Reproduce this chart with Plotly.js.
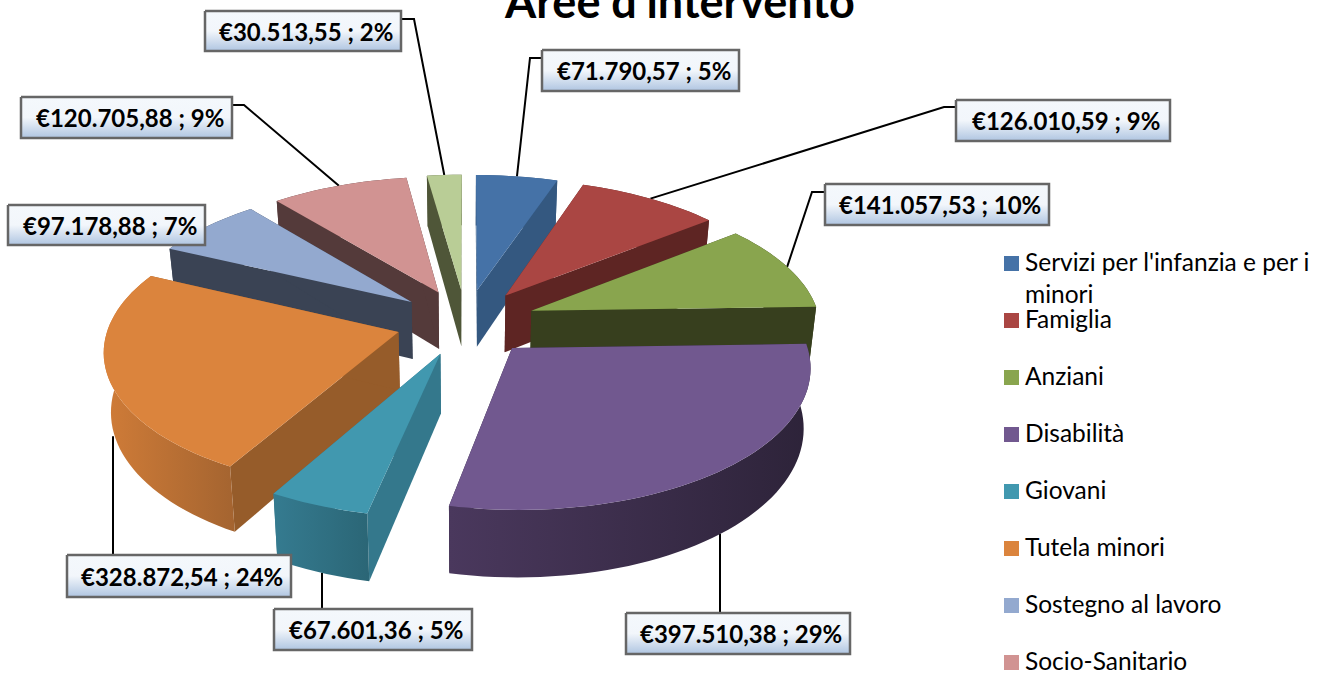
<!DOCTYPE html>
<html><head><meta charset="utf-8">
<script src="https://cdn.plot.ly/plotly-3.0.1.min.js"></script>
<style>html,body{margin:0;padding:0;background:#fff}</style></head>
<body><div id="chart" style="width:1319px;height:673px"></div>
<script>
// ---- data ----
const categories = ["Servizi per l'infanzia e per i<br>minori","Famiglia","Anziani","Disabilità","Giovani","Tutela minori","Sostegno al lavoro","Socio-Sanitario",null];
const values = [71790.57,126010.59,141057.53,397510.38,67601.36,328872.54,97178.88,120705.88,30513.55];
// ---- styles ----
const topColors  = ['#4572a7','#aa4643','#89a54e','#71588f','#4198af','#db843d','#93a9cf','#d19392','#b9cd96'];
const sideColors = ['#345880','#5e2523','#373f1e','#2d2339','#34788c','#965c2a','#3a4354','#543a3a','#4f5638'];
const outerFrom  = ['#345880','#5e2523','#373f1e','#4a385d','#357b90','#d07c38','#3a4354','#543a3a','#4f5638'];
const outerTo    = ['#345880','#5e2523','#373f1e','#2d2339','#2b6676','#a46430','#3a4354','#543a3a','#4f5638'];
// ---- label boxes [x0,x1,y0,y1], leader attach and elbow points ----
const labelBoxes = [[542,739,50,91],[956,1170,100,141],[825,1049,184,225],[626,850,613,654],[274,472,609,650],[67,291,555,597],[8,205,205,245],[21,232,97,138],[205,401,11,51]];
const leaders = [[[542,58],[530,58]],[[956,107],[944,107]],[[825,192],[812,192]],[[720,613]],[[322,609]],[[113,555]],null,[[232,105],[244,105]],[[402,19],[414,19]]];
const leaderOnWall = [false,false,false,true,true,true,false,false,false];
// ---- projection of the exploded tilted disc ----
const CX=466, CY=322, A=289, B=136, P=0.119, EXPLODE=0.243, DEPTH=58, BOTTOM=0.98;
function project(u,v,low){
  const s=1/(1+P*v);
  let x=A*u*s, y=-B*v*s;
  if(low){x*=BOTTOM; y+=DEPTH*s;}
  return [CX+x, CY+y];
}
const total=values.reduce((a,b)=>a+b,0);
let cum=0;
const slices=values.map((val,i)=>{
  const a0=cum/total*2*Math.PI; cum+=val; const a1=cum/total*2*Math.PI;
  const mid=(a0+a1)/2;
  return {i,a0,a1,mid,eu:EXPLODE*Math.sin(mid),ev:EXPLODE*Math.cos(mid)};
});
function rim(s,a,low){return project(s.eu+Math.sin(a),s.ev+Math.cos(a),low);}
function tip(s,low){return project(s.eu,s.ev,low);}
function arc(s,low){
  const pts=[],n=Math.max(4,Math.ceil((s.a1-s.a0)/(2*Math.PI/180)));
  for(let k=0;k<=n;k++)pts.push(rim(s,s.a0+(s.a1-s.a0)*k/n,low));
  return pts;
}
function poly(pts,color,extra){
  return Object.assign({type:'scatter',mode:'none',fill:'toself',fillcolor:color,
    x:pts.map(p=>p[0]),y:pts.map(p=>p[1]),hoverinfo:'skip',showlegend:false},extra||{});
}
const traces=[];
// leaders sit behind the pie
slices.forEach(s=>{
  const l=leaders[s.i]; if(!l)return;
  const end=rim(s,s.mid,leaderOnWall[s.i]);
  const pts=l.concat([end]);
  if(l.length===1)pts[1]=[l[0][0],end[1]];
  traces.push({type:'scatter',mode:'lines',x:pts.map(p=>p[0]),y:pts.map(p=>p[1]),
    line:{color:'#000',width:2},hoverinfo:'skip',showlegend:false});
});
// painter's order: far slices first
[...slices].sort((a,b)=>Math.cos(b.mid)-Math.cos(a.mid)).forEach(s=>{
  const c=sideColors[s.i];
  traces.push(poly([tip(s),rim(s,s.a0),rim(s,s.a0,true),tip(s,true)],c));
  traces.push(poly([tip(s),rim(s,s.a1),rim(s,s.a1,true),tip(s,true)],c));
  const outer=arc(s,false).concat(arc(s,true).reverse());
  traces.push(poly(outer,outerFrom[s.i],{fillgradient:{type:'horizontal',colorscale:[[0,outerFrom[s.i]],[1,outerTo[s.i]]]}}));
  traces.push(poly([tip(s)].concat(arc(s,false)),topColors[s.i],{name:categories[s.i]||''}));
});
// label boxes and texts
function euro(v){
  const [a,b]=v.toFixed(2).split('.');
  return '€'+a.replace(/\B(?=(\d{3})+$)/g,'.')+','+b;
}
const annotations=[];
slices.forEach(s=>{
  const [x0,x1,y0,y1]=labelBoxes[s.i];
  traces.push({type:'scatter',mode:'lines',fill:'toself',fillcolor:'#e0e8f2',
    fillgradient:{type:'vertical',colorscale:[[0,'#afc5e1'],[0.5,'#f2f6fb'],[1,'#f4f8fc']]},
    x:[x0,x1,x1,x0,x0],y:[y0,y0,y1,y1,y0],line:{color:'#666',width:2.5},hoverinfo:'skip',showlegend:false});
  annotations.push({xref:'x',yref:'y',x:(x0+x1)/2+3,y:(y0+y1)/2,showarrow:false,
    text:euro(values[s.i])+' ; '+Math.round(values[s.i]/total*100)+'%',
    font:{family:'Lato',size:24,color:'#000',weight:700},xanchor:'center',yanchor:'middle'});
});
// legend
const LEG_X=1011.5, LEG_Y=263.5, LEG_STEP=57;
categories.forEach((c,i)=>{
  if(!c)return;
  const y=LEG_Y+i*LEG_STEP;
  traces.push({type:'scatter',mode:'markers',x:[LEG_X],y:[y],marker:{symbol:'square',size:15,color:topColors[i],line:{width:0}},hoverinfo:'skip',showlegend:false});
  annotations.push({xref:'x',yref:'y',x:1023,y:y-19,xanchor:'left',yanchor:'top',align:'left',showarrow:false,text:c,
    font:{family:'Lato',size:24.5,color:'#000'}});
});
const layout={width:1319,height:673,margin:{l:0,r:0,t:0,b:0},paper_bgcolor:'#fff',plot_bgcolor:'#fff',showlegend:false,
  title:{text:"Aree d'intervento",font:{family:'Lato',size:45,color:'#000',weight:700},x:0.5155,xanchor:'center',y:0.997,yanchor:'middle',yref:'container'},
  xaxis:{range:[0,1319],visible:false,fixedrange:true},
  yaxis:{range:[673,0],visible:false,fixedrange:true},
  annotations};
Plotly.newPlot('chart',traces,layout,{displayModeBar:false,staticPlot:true});
</script></body></html>
